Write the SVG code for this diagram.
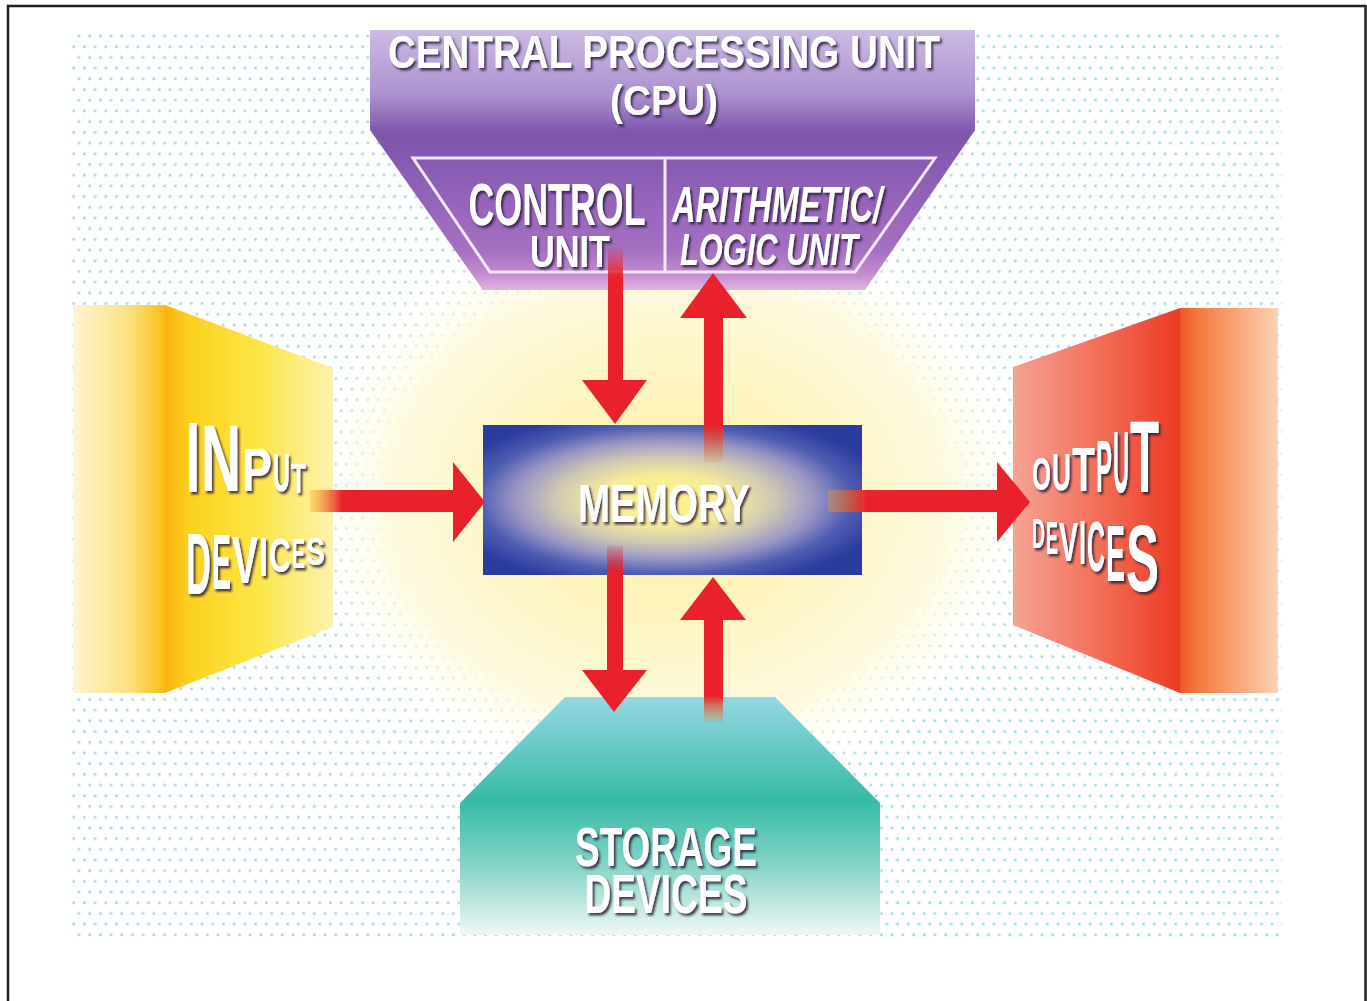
<svg xmlns="http://www.w3.org/2000/svg" width="1367" height="1001" viewBox="0 0 1367 1001">
<style>
.lbl{font-family:"Liberation Sans",Arial,sans-serif;font-weight:bold;fill:#ffffff;filter:url(#sh);}
.it{font-style:italic;}
.arrow{fill:#e8212a;}
.frame{fill:#ffffff;stroke:#231f20;stroke-width:2.5;}
</style>
<defs>
<filter id="sh" x="-10%" y="-20%" width="130%" height="150%">
<feDropShadow dx="2" dy="2.5" stdDeviation="0.9" flood-color="#2a1f3a" flood-opacity="0.85"/>
</filter>
<pattern id="dots" x="76.3" y="33.3" width="10.7" height="21.4" patternUnits="userSpaceOnUse">
<circle cx="2.7" cy="2.7" r="1.6" fill="#a9dbe9"/>
<circle cx="8.05" cy="13.4" r="1.6" fill="#a9dbe9"/>
</pattern>
<radialGradient id="glow" cx="0.5" cy="0.5" r="0.5">
<stop offset="0" stop-color="#fdf0a2"/>
<stop offset="0.45" stop-color="#fdf5c4"/>
<stop offset="0.75" stop-color="#fefadd" stop-opacity="0.92"/>
<stop offset="1" stop-color="#ffffff" stop-opacity="0"/>
</radialGradient>
<linearGradient id="cpuG" x1="0" y1="30" x2="0" y2="290" gradientUnits="userSpaceOnUse">
<stop offset="0" stop-color="#cbbbe2"/>
<stop offset="0.25" stop-color="#ab90cf"/>
<stop offset="0.4" stop-color="#7c54aa"/>
<stop offset="0.55" stop-color="#8a5db4"/>
<stop offset="0.85" stop-color="#a670c2"/>
<stop offset="0.94" stop-color="#c48cd0"/>
<stop offset="1" stop-color="#e2b4e2"/>
</linearGradient>
<radialGradient id="memG" cx="0.48" cy="0.5" r="0.6">
<stop offset="0" stop-color="#fff385"/>
<stop offset="0.28" stop-color="#f6ec98"/>
<stop offset="0.48" stop-color="#cfc8b4"/>
<stop offset="0.66" stop-color="#9a96c4"/>
<stop offset="0.82" stop-color="#4f5db2"/>
<stop offset="1" stop-color="#2b3b9e"/>
</radialGradient>
<linearGradient id="inBack" x1="0" y1="0" x2="1" y2="0">
<stop offset="0" stop-color="#fef5d0"/>
<stop offset="0.6" stop-color="#fde182"/>
<stop offset="1" stop-color="#fbbd14"/>
</linearGradient>
<linearGradient id="inFront" x1="0" y1="0" x2="1" y2="0">
<stop offset="0" stop-color="#fbb012"/>
<stop offset="0.15" stop-color="#fcd11e"/>
<stop offset="0.55" stop-color="#fbe645"/>
<stop offset="1" stop-color="#fdf2ae"/>
</linearGradient>
<linearGradient id="outFront" x1="0" y1="0" x2="1" y2="0">
<stop offset="0" stop-color="#f5a394"/>
<stop offset="0.5" stop-color="#f2705a"/>
<stop offset="1" stop-color="#ec3a22"/>
</linearGradient>
<linearGradient id="outBack" x1="0" y1="0" x2="1" y2="0">
<stop offset="0" stop-color="#ef5526"/>
<stop offset="0.2" stop-color="#f47b3e"/>
<stop offset="1" stop-color="#fcd2b4"/>
</linearGradient>
<linearGradient id="stTop" x1="0" y1="0" x2="0" y2="1">
<stop offset="0" stop-color="#94d8e4"/>
<stop offset="1" stop-color="#35b9a3"/>
</linearGradient>
<linearGradient id="stFront" x1="0" y1="0" x2="0" y2="1">
<stop offset="0" stop-color="#38bca8"/>
<stop offset="0.45" stop-color="#82d2c6"/>
<stop offset="1" stop-color="#eef8f6"/>
</linearGradient>
<linearGradient id="fadeDown" x1="0" y1="0" x2="0" y2="1">
<stop offset="0" stop-color="#e8212a" stop-opacity="0.1"/>
<stop offset="0.22" stop-color="#e8212a"/>
<stop offset="1" stop-color="#e8212a"/>
</linearGradient>
<linearGradient id="fadeUp" x1="0" y1="1" x2="0" y2="0">
<stop offset="0" stop-color="#f08a2a" stop-opacity="0.2"/>
<stop offset="0.25" stop-color="#e8212a"/>
<stop offset="1" stop-color="#e8212a"/>
</linearGradient>
<linearGradient id="fadeRight" x1="0" y1="0" x2="1" y2="0">
<stop offset="0" stop-color="#f7a21a" stop-opacity="0.3"/>
<stop offset="0.22" stop-color="#e8212a"/>
<stop offset="1" stop-color="#e8212a"/>
</linearGradient>
</defs>

<rect class="frame" x="8" y="6" width="1357.5" height="1000"/>
<rect x="70" y="32" width="1212" height="906" fill="url(#dots)"/>
<ellipse cx="668" cy="500" rx="375" ry="300" fill="url(#glow)"/>

<g id="cpu">
<polygon points="370,30 975,30 975,130 865,290 483,290 370,130" fill="url(#cpuG)"/>
<polygon points="413,158 935,158 855,272 490,272" fill="none" stroke="#f3e6f6" stroke-width="3"/>
<line x1="665" y1="158" x2="665" y2="272" stroke="#f3e6f6" stroke-width="3"/>
<text class="lbl" x="664" y="68" font-size="46" text-anchor="middle" textLength="552" lengthAdjust="spacingAndGlyphs">CENTRAL PROCESSING UNIT</text>
<text class="lbl" x="664" y="115" font-size="42" text-anchor="middle" textLength="108" lengthAdjust="spacingAndGlyphs">(CPU)</text>
</g>

<g id="control-unit">
<text class="lbl" x="557" y="225" font-size="60" text-anchor="middle" textLength="177" lengthAdjust="spacingAndGlyphs">CONTROL</text>
<text class="lbl" x="570" y="267" font-size="44" text-anchor="middle" textLength="80" lengthAdjust="spacingAndGlyphs">UNIT</text>
</g>

<g id="alu">
<text class="lbl it" x="777" y="222" font-size="50" text-anchor="middle" textLength="210" lengthAdjust="spacingAndGlyphs">ARITHMETIC/</text>
<text class="lbl it" x="769" y="265" font-size="45" text-anchor="middle" textLength="178" lengthAdjust="spacingAndGlyphs">LOGIC UNIT</text>
</g>

<g id="input-devices">
<polygon points="73,305 165,305 165,693 73,693" fill="url(#inBack)"/>
<polygon points="165,305 333,368 333,627 165,693" fill="url(#inFront)"/>
<text class="lbl"><tspan x="186" y="492" font-size="100" textLength="14" lengthAdjust="spacingAndGlyphs">I</tspan><tspan x="201" y="491" font-size="95" textLength="40" lengthAdjust="spacingAndGlyphs">N</tspan><tspan x="242" y="491" font-size="62" textLength="30" lengthAdjust="spacingAndGlyphs">P</tspan><tspan x="273" y="491" font-size="53" textLength="17" lengthAdjust="spacingAndGlyphs">U</tspan><tspan x="291" y="493" font-size="42" textLength="15" lengthAdjust="spacingAndGlyphs">T</tspan></text>
<text class="lbl"><tspan x="186" y="594" font-size="88" textLength="25" lengthAdjust="spacingAndGlyphs">D</tspan><tspan x="212" y="589" font-size="78" textLength="19" lengthAdjust="spacingAndGlyphs">E</tspan><tspan x="232" y="583" font-size="67" textLength="26" lengthAdjust="spacingAndGlyphs">V</tspan><tspan x="259" y="576" font-size="56" textLength="9" lengthAdjust="spacingAndGlyphs">I</tspan><tspan x="269" y="572" font-size="48" textLength="22" lengthAdjust="spacingAndGlyphs">C</tspan><tspan x="292" y="568" font-size="42" textLength="13" lengthAdjust="spacingAndGlyphs">E</tspan><tspan x="306" y="565" font-size="38" textLength="19" lengthAdjust="spacingAndGlyphs">S</tspan></text>
</g>

<g id="output-devices">
<polygon points="1013,367 1180,308 1180,693 1013,625" fill="url(#outFront)"/>
<polygon points="1180,308 1278,308 1278,693 1180,693" fill="url(#outBack)"/>
<text class="lbl"><tspan x="1032" y="490" font-size="46" textLength="19" lengthAdjust="spacingAndGlyphs">O</tspan><tspan x="1052" y="490" font-size="52" textLength="19" lengthAdjust="spacingAndGlyphs">U</tspan><tspan x="1072" y="491" font-size="63" textLength="23" lengthAdjust="spacingAndGlyphs">T</tspan><tspan x="1096" y="492" font-size="74" textLength="16" lengthAdjust="spacingAndGlyphs">P</tspan><tspan x="1113" y="492" font-size="88" textLength="16" lengthAdjust="spacingAndGlyphs">U</tspan><tspan x="1130" y="492" font-size="102" textLength="29" lengthAdjust="spacingAndGlyphs">T</tspan></text>
<text class="lbl"><tspan x="1032" y="548" font-size="42" textLength="13" lengthAdjust="spacingAndGlyphs">D</tspan><tspan x="1046" y="554" font-size="46" textLength="12" lengthAdjust="spacingAndGlyphs">E</tspan><tspan x="1059" y="561" font-size="56" textLength="19" lengthAdjust="spacingAndGlyphs">V</tspan><tspan x="1079" y="564" font-size="63" textLength="7" lengthAdjust="spacingAndGlyphs">I</tspan><tspan x="1087" y="571" font-size="70" textLength="18" lengthAdjust="spacingAndGlyphs">C</tspan><tspan x="1106" y="581" font-size="80" textLength="19" lengthAdjust="spacingAndGlyphs">E</tspan><tspan x="1126" y="591" font-size="94" textLength="33" lengthAdjust="spacingAndGlyphs">S</tspan></text>
</g>

<g id="storage-devices">
<polygon points="565,697 775,697 880,803 460,803" fill="url(#stTop)"/>
<rect x="460" y="803" width="420" height="132" fill="url(#stFront)"/>
<text class="lbl" x="666" y="866" font-size="55" text-anchor="middle" textLength="182" lengthAdjust="spacingAndGlyphs">STORAGE</text>
<text class="lbl" x="666" y="913" font-size="55" text-anchor="middle" textLength="163" lengthAdjust="spacingAndGlyphs">DEVICES</text>
</g>

<g id="memory">
<rect x="483" y="425" width="379" height="150" fill="url(#memG)"/>
<text class="lbl" x="664" y="522" font-size="54" text-anchor="middle" textLength="172" lengthAdjust="spacingAndGlyphs">MEMORY</text>
</g>

<g id="connectors">
<rect x="608" y="248" width="15" height="134" fill="url(#fadeDown)"/>
<polygon class="arrow" points="582,380 647,380 615,424"/>
<rect x="704" y="316" width="19" height="146" fill="url(#fadeUp)"/>
<polygon class="arrow" points="680,318 747,318 713,273"/>
<rect x="310" y="490" width="145" height="22" fill="url(#fadeRight)"/>
<polygon class="arrow" points="453,462 453,542 485,502"/>
<rect x="828" y="490" width="172" height="22" fill="url(#fadeRight)"/>
<polygon class="arrow" points="997,462 997,542 1030,502"/>
<rect x="607" y="545" width="16" height="127" fill="url(#fadeDown)"/>
<polygon class="arrow" points="582,670 647,670 614,712"/>
<rect x="704" y="618" width="19" height="104" fill="url(#fadeUp)"/>
<polygon class="arrow" points="680,620 746,620 713,577"/>
</g>
</svg>
